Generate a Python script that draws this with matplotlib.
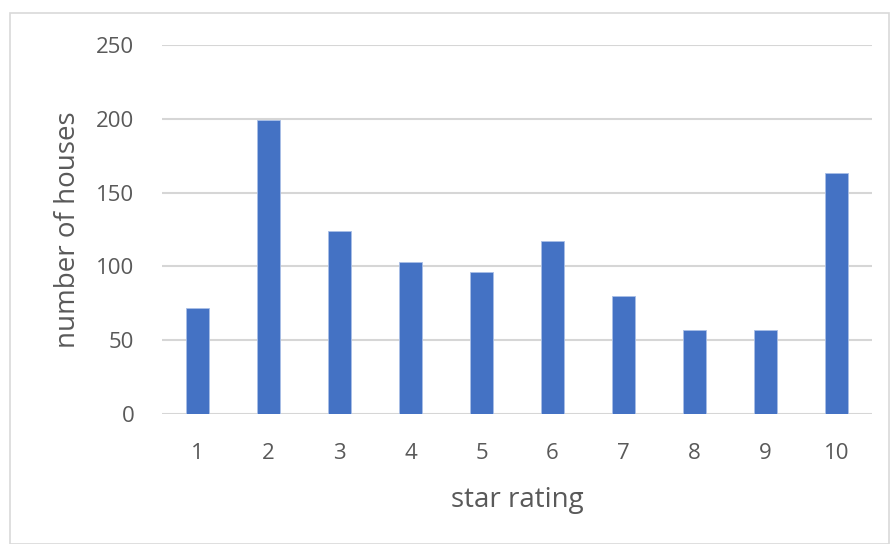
import matplotlib
matplotlib.use("Agg")
import matplotlib.pyplot as plt
from matplotlib.patches import Rectangle

ratings = ["1", "2", "3", "4", "5", "6", "7", "8", "9", "10"]
houses = [72, 199, 124, 103, 96, 117, 80, 57, 57, 163]
yticks = [0, 50, 100, 150, 200, 250]

plt.rcParams['font.family'] = ['Open Sans', 'DejaVu Sans']
txt = '#595959'

fig = plt.figure(figsize=(8.9, 5.44), dpi=100)
fig.patches.append(Rectangle((10/890, 0), 879/890, 1 - 13/544, transform=fig.transFigure,
                             fill=False, edgecolor='#d9d9d9', linewidth=1.2))
ax = fig.add_axes([162/890, 1 - 414/544, 710/890, 369/544])
x = list(range(len(ratings)))
ax.bar(x, houses, width=0.31, color='#4472c4', edgecolor='#a9bfe6', linewidth=0.6, zorder=3)
ax.set_xlim(-0.5, len(ratings) - 0.5)
ax.set_ylim(0, 250)
ax.set_yticks(yticks)
ax.set_yticklabels([str(v) for v in yticks])
ax.set_xticks(x)
ax.set_xticklabels(ratings)
ax.grid(axis='y', color='#d6d6d6', linewidth=1.5, zorder=0)
for s in ax.spines.values():
    s.set_visible(False)
ax.tick_params(axis='both', length=0, labelsize=16, colors=txt)
ax.tick_params(axis='y', pad=20)
ax.tick_params(axis='x', pad=21)
ax.set_xlabel('star rating', fontsize=20, color=txt, labelpad=16)
ax.set_ylabel('number of houses', fontsize=20, color=txt, labelpad=10)
fig.savefig('out.png', dpi=100)
